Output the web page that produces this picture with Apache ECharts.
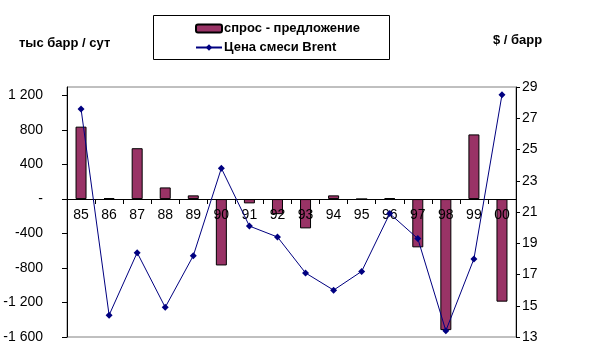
<!DOCTYPE html>
<html>
<head>
<meta charset="utf-8">
<script src="https://cdn.jsdelivr.net/npm/echarts@6/dist/echarts.min.js"></script>
<style>html,body{margin:0;padding:0;background:#fff;}#c{width:592px;height:363px;}</style>
</head>
<body>
<div id="c"></div>
<script>
var categories = ['85','86','87','88','89','90','91','92','93','94','95','96','97','98','99','00'];
var balance = [840, 10, 590, 135, 43, -770, -50, -175, -340, 43, 0, 10, -560, -1520, 750, -1190];
var brent = [27.6, 14.4, 18.4, 14.9, 18.2, 23.8, 20.1, 19.4, 17.1, 16.0, 17.2, 20.9, 19.3, 13.4, 18.0, 28.5];
var leftTicks = [-1600, -1200, -800, -400, 0, 400, 800, 1200];
var rightTicks = [13, 15, 17, 19, 21, 23, 25, 27, 29];
var seriesNames = ['спрос - предложение', 'Цена смеси Brent'];
var leftTitle = 'тыс барр / сут';
var rightTitle = '$ / барр';

function fmtLeft(v) {
  if (v === 0) return '-';
  var s = Math.abs(v).toString();
  s = s.replace(/\B(?=(\d{3})+(?!\d))/g, ' ');
  return (v < 0 ? '-' : '') + s;
}

var chart = echarts.init(document.getElementById('c'), null, {renderer: 'canvas'});
var font = 'Liberation Sans, Arial, sans-serif';
chart.setOption({
  animation: false,
  backgroundColor: '#fff',
  textStyle: {fontFamily: font},
  graphic: [
    {type: 'rect', left: 153, top: 15, shape: {width: 236, height: 44}, style: {fill: '#fff', stroke: '#000', lineWidth: 1}, z: 0},
    {type: 'text', left: 19, top: 37, style: {text: leftTitle, font: 'bold 13px ' + font, fill: '#000'}},
    {type: 'text', left: 493, top: 34, style: {text: rightTitle, font: 'bold 13px ' + font, fill: '#000'}}
  ],
  legend: {
    orient: 'vertical',
    left: 190,
    top: 17,
    itemGap: 6,
    itemWidth: 26,
    itemHeight: 8,
    z: 10,
    textStyle: {fontFamily: font, fontSize: 13, fontWeight: 'bold', color: '#000', padding: [0,0,0,-3]},
    data: [seriesNames[0], seriesNames[1]]
  },
  grid: {left: 67, right: 76, top: 87, bottom: 26, show: true, borderColor: '#808080', borderWidth: 1, backgroundColor: 'transparent'},
  xAxis: {
    type: 'category',
    data: categories,
    boundaryGap: true,
    position: 'bottom',
    offset: -138,
    z: 2,
    axisLine: {onZero: false, lineStyle: {color: '#000', width: 1}},
    axisTick: {show: true, length: 5, lineStyle: {color: '#000'}},
    axisLabel: {color: '#000', fontSize: 14, margin: 9, fontFamily: font, interval: 0},
    splitLine: {show: false}
  },
  yAxis: [
    {
      type: 'value', min: -1600, max: 1300, interval: 400,
      axisLine: {show: true, onZero: false, lineStyle: {color: '#000'}},
      axisTick: {show: true, length: 5, lineStyle: {color: '#000'}, customValues: leftTicks},
      axisLabel: {color: '#000', fontSize: 14, margin: 24, fontFamily: font, formatter: fmtLeft, customValues: leftTicks},
      splitLine: {show: false}
    },
    {
      type: 'value', min: 13, max: 29, interval: 2,
      position: 'right',
      axisLine: {show: true, onZero: false, lineStyle: {color: '#000'}},
      axisTick: {show: true, length: 4, lineStyle: {color: '#000'}, customValues: rightTicks},
      axisLabel: {color: '#000', fontSize: 14, margin: 6, fontFamily: font, customValues: rightTicks},
      splitLine: {show: false}
    }
  ],
  series: [
    {
      name: seriesNames[0], type: 'bar', yAxisIndex: 0, data: balance,
      barWidth: 11, z: 1,
      itemStyle: {color: '#993366', borderColor: '#000', borderWidth: 1}
    },
    {
      name: seriesNames[1], type: 'line', yAxisIndex: 1, data: brent,
      symbol: 'diamond', symbolSize: 7, showSymbol: true, z: 3,
      itemStyle: {color: '#000080'},
      lineStyle: {color: '#000080', width: 1}
    }
  ]
});
</script>
</body>
</html>
